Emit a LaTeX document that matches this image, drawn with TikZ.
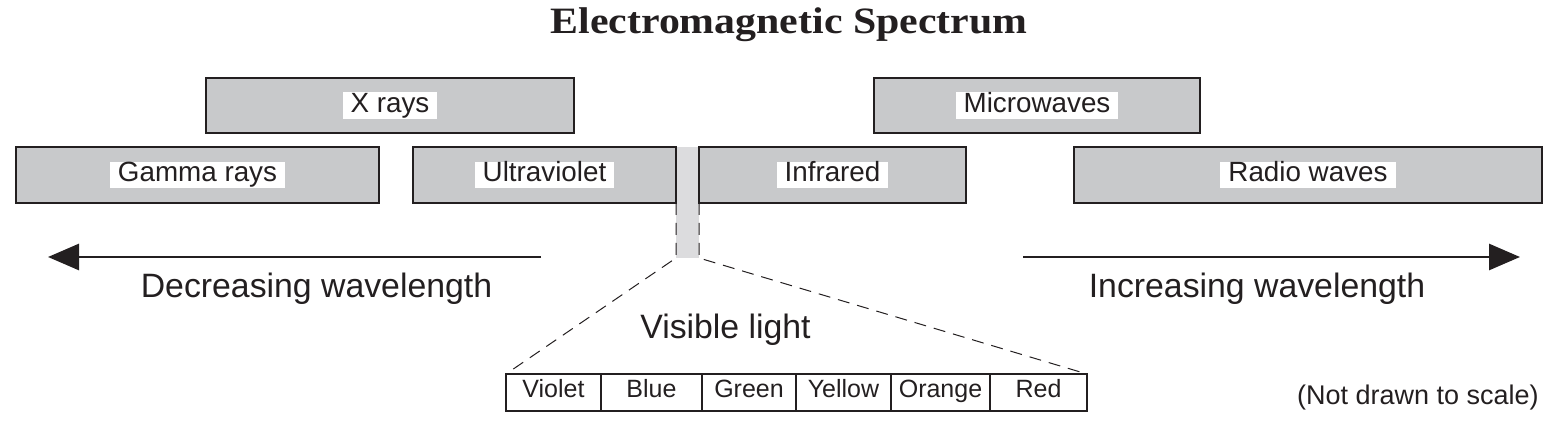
\documentclass[tikz,border=0pt]{standalone}
\usepackage{fontspec}
\setmainfont{Liberation Sans}
\newfontfamily\titlefont[FakeStretch=1.125]{Liberation Serif}
\usetikzlibrary{arrows.meta}
\definecolor{boxgray}{RGB}{200,201,203}
\definecolor{stripgray}{RGB}{220,220,222}
\definecolor{ink}{RGB}{35,31,32}
\tikzset{
  band/.style={draw=ink, line width=0.75pt, fill=boxgray, minimum height=28pt, inner sep=0pt, outer sep=0pt},
  lbl/.style={fill=white, inner xsep=4pt, inner ysep=1.8pt, text height=0.82em, text depth=0.13em,
              font=\fontsize{13.9pt}{16pt}\selectfont, text=ink},
  cell/.style={draw=ink, line width=0.75pt, minimum height=18.5pt, inner sep=0pt, outer sep=0pt,
               text height=0.72em, text depth=0.2em, font=\fontsize{12.5pt}{14pt}\selectfont, text=ink},
  dirtext/.style={font=\fontsize{16.9pt}{20pt}\selectfont, text=ink, inner sep=0pt, anchor=base},
  arrowline/.style={line width=1.4pt, draw=ink, -{Triangle[length=15.5pt,width=13pt]}},
  dashline/.style={draw=ink, line width=0.5pt, dash pattern=on 6pt off 4pt},
}
\begin{document}
\begin{tikzpicture}[x=0.5pt,y=-0.5pt]
\useasboundingbox (0,0) rectangle (1564,427);

% title
\node[font=\titlefont\bfseries\fontsize{18.6pt}{22pt}\selectfont, text=ink, anchor=base, inner sep=0pt]
  (title) at (789,34) {Electromagnetic Spectrum};

% visible strip
\node[fill=stripgray, draw=none, minimum width=11.5pt, minimum height=55.5pt, inner sep=0pt, outer sep=0pt]
  (strip) at (687.5,202.5) {};

% bands
\node[band, minimum width=184pt, minimum height=27.5pt] (xray) at (390,105.5) {};
\node[lbl] (xrayL) at (xray) {X rays};
\node[band, minimum width=163pt, minimum height=27.5pt] (micro) at (1037,105.5) {};
\node[lbl] (microL) at (micro) {Microwaves};
\node[band, minimum width=181.5pt] (gamma) at (197.5,175) {};
\node[lbl] (gammaL) at (gamma) {Gamma rays};
\node[band, minimum width=131.5pt] (uv) at (544.5,175) {};
\node[lbl] (uvL) at (uv) {Ultraviolet};
\node[band, minimum width=133.5pt] (ir) at (832.5,175) {};
\node[lbl] (irL) at (ir) {Infrared};
\node[band, minimum width=234pt] (radio) at (1308,175) {};
\node[lbl] (radioL) at (radio) {Radio waves};

% direction arrows
\coordinate (decS) at (541,257);
\coordinate (decE) at (48,257);
\draw[arrowline] (decS) -- (decE);
\node[dirtext] (decL) at (316.5,298) {Decreasing wavelength};
\coordinate (incS) at (1023,257);
\coordinate (incE) at (1520,257);
\draw[arrowline] (incS) -- (incE);
\node[dirtext] (incL) at (1257,298) {Increasing wavelength};

% visible light cells
\node[cell, minimum width=47.5pt] (violet) at (553.5,392.5) {Violet};
\node[cell, minimum width=50.5pt] (blue)   at (651.5,392.5) {Blue};
\node[cell, minimum width=47pt]   (green)  at (749,392.5) {Green};
\node[cell, minimum width=47.5pt] (yellow) at (843.5,392.5) {Yellow};
\node[cell, minimum width=49.5pt] (orange) at (940.5,392.5) {Orange};
\node[cell, minimum width=48.5pt] (red)    at (1038.5,392.5) {Red};

\node[dirtext] (visL) at (725.5,338) {Visible light};

% dashed zoom lines
\draw[dashline] (uv.south east) -- (strip.south west) -- (violet.north west);
\draw[dashline] (ir.south west) -- (strip.south east) -- (red.north east);

\node[font=\fontsize{13.5pt}{16pt}\selectfont, text=ink, anchor=base east, inner sep=0pt]
  (note) at (1539,404) {(Not drawn to scale)};
\end{tikzpicture}
\end{document}
